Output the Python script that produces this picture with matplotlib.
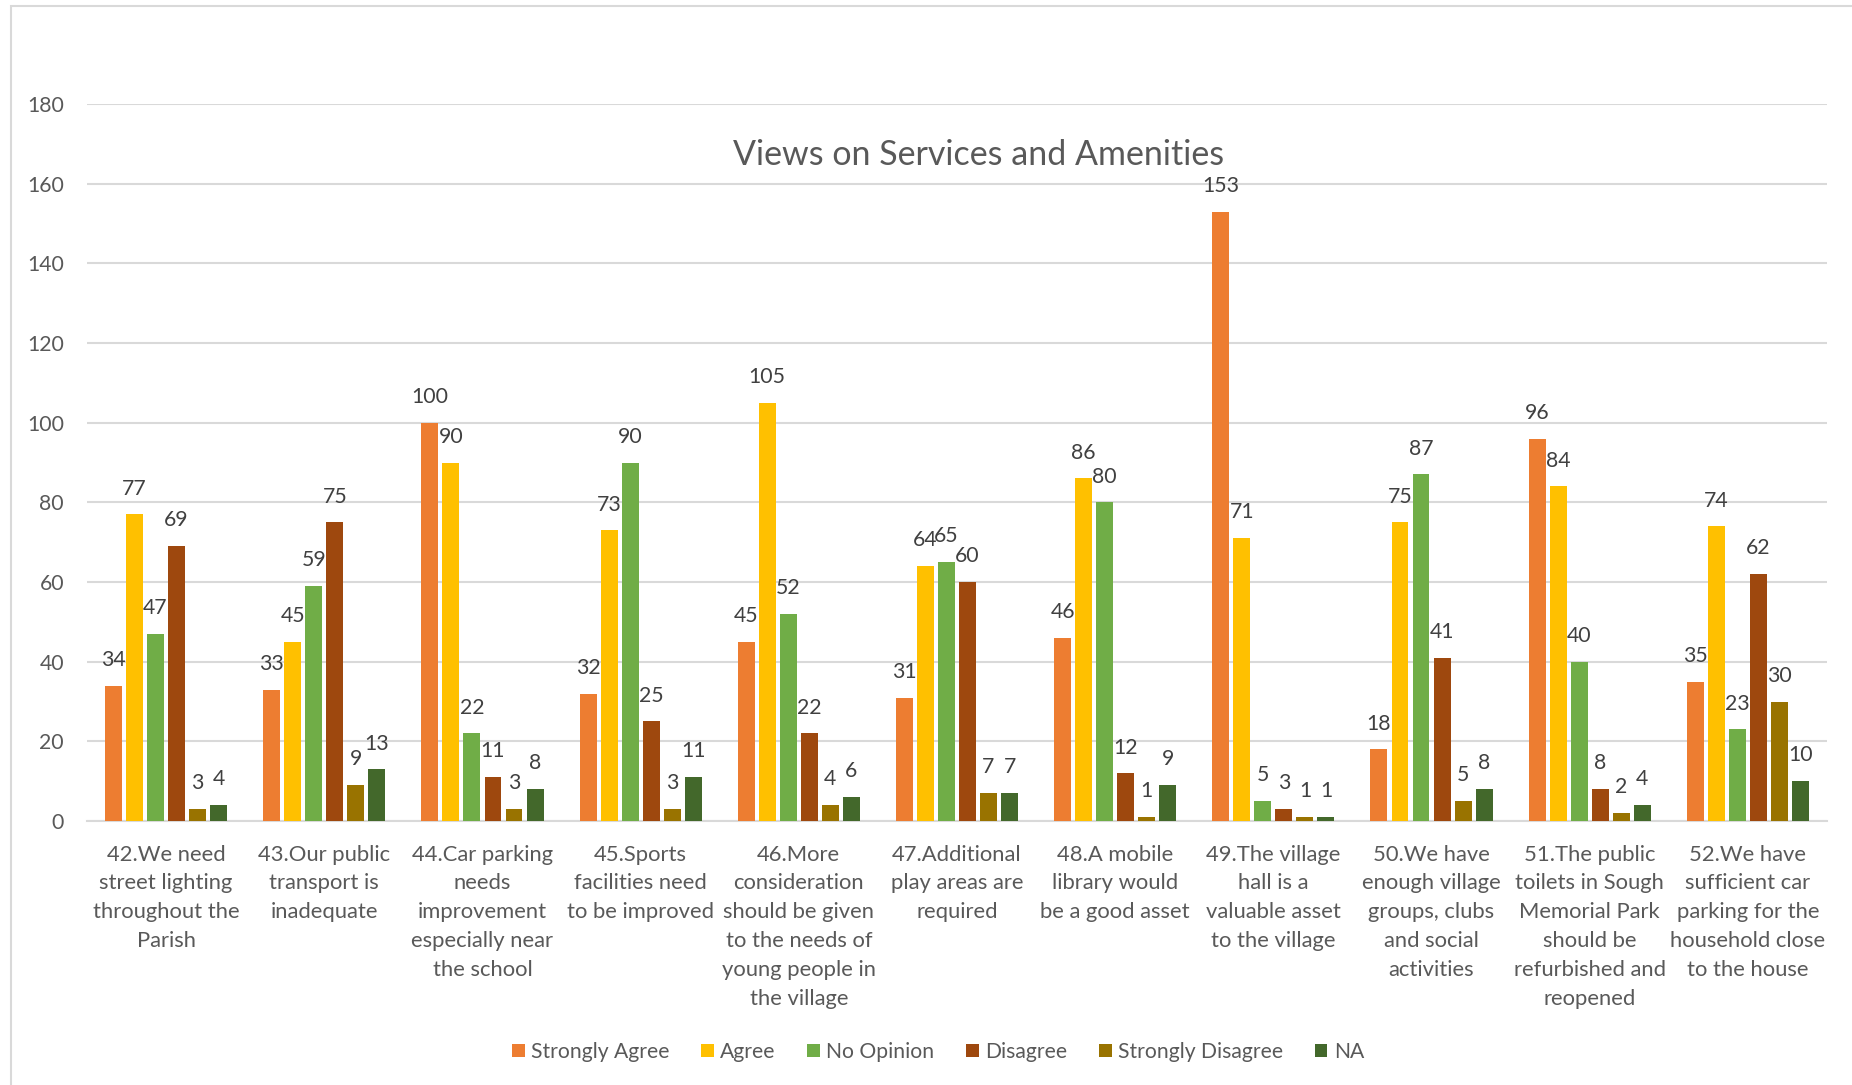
import numpy as np
import matplotlib.pyplot as plt
from matplotlib.patches import Rectangle

plt.rcParams['font.family'] = ['Lato', 'DejaVu Sans']

# fragen
kategorien = [
    "42.We need\nstreet lighting\nthroughout the\nParish",
    "43.Our public\ntransport is\ninadequate",
    "44.Car parking\nneeds\nimprovement\nespecially near\nthe school",
    "45.Sports\nfacilities need\nto be improved",
    "46.More\nconsideration\nshould be given\nto the needs of\nyoung people in\nthe village",
    "47.Additional\nplay areas are\nrequired",
    "48.A mobile\nlibrary would\nbe a good asset",
    "49.The village\nhall is a\nvaluable asset\nto the village",
    "50.We have\nenough village\ngroups, clubs\nand social\nactivities",
    "51.The public\ntoilets in Sough\nMemorial Park\nshould be\nrefurbished and\nreopened",
    "52.We have\nsufficient car\nparking for the\nhousehold close\nto the house",
]

# antworten pro frage
strongly_agree = [34, 33, 100, 32, 45, 31, 46, 153, 18, 96, 35]
agree = [77, 45, 90, 73, 105, 64, 86, 71, 75, 84, 74]
no_opinion = [47, 59, 22, 90, 52, 65, 80, 5, 87, 40, 23]
disagree = [69, 75, 11, 25, 22, 60, 12, 3, 41, 8, 62]
strongly_disagree = [3, 9, 3, 3, 4, 7, 1, 1, 5, 2, 30]
na = [4, 13, 8, 11, 6, 7, 9, 1, 8, 4, 10]

serien = ["Strongly Agree", "Agree", "No Opinion", "Disagree", "Strongly Disagree", "NA"]
werte = [strongly_agree, agree, no_opinion, disagree, strongly_disagree, na]
farben = ["#ED7D31", "#FFC000", "#70AD47", "#9E480E", "#997300", "#43682B"]

fig = plt.figure(figsize=(18.52, 10.85), dpi=100)
ax = fig.add_axes([87 / 1852, 1 - 821 / 1085, 1740 / 1852, 717 / 1085])

# rahmen um die grafik
fig.patches.append(Rectangle((11 / 1852, -0.01), 1.1, 1.01 - 5.5 / 1085, transform=fig.transFigure,
                             fill=False, edgecolor="#d9d9d9", linewidth=1.5))

x = np.arange(len(kategorien))
schritt = 0.133
breite = 0.107
for i in range(len(serien)):
    pos = x + (i - 2.5) * schritt
    bars = ax.bar(pos, werte[i], width=breite, color=farben[i], label=serien[i], zorder=3)
    for b, v in zip(bars, werte[i]):
        ax.annotate(str(v), (b.get_x() + b.get_width() / 2, v), xytext=(0, 18.5),
                    textcoords="offset points", ha="center", va="center",
                    fontsize=15.3, color="#404040", zorder=4)

ax.set_ylim(0, 180)
ax.set_xlim(-0.5, len(kategorien) - 0.5)
ax.set_yticks(np.arange(0, 181, 20))
ax.grid(axis="y", color="#d9d9d9", linewidth=1.5, zorder=0)
for s in ["top", "right", "left"]:
    ax.spines[s].set_visible(False)
ax.spines["bottom"].set_color("#d9d9d9")
ax.spines["bottom"].set_linewidth(1.5)
ax.tick_params(axis="both", length=0, labelsize=15.3, labelcolor="#595959")
ax.tick_params(axis="y", pad=16.5)
ax.set_xticks(x)
ax.set_xticklabels(kategorien, fontsize=15.8, linespacing=1.55)
ax.tick_params(axis="x", pad=17)

fig.text(979 / 1852, 1 - 155 / 1085, "Views on Services and Amenities", ha="center", va="center",
         fontsize=24.5, color="#595959")

fig.legend(loc="center", bbox_to_anchor=(938 / 1852, 1 - 1052 / 1085), ncol=6, frameon=False,
           handlelength=0.6, handleheight=0.6, handletextpad=0.3, columnspacing=1.5,
           prop={"size": 15.2}, labelcolor="#595959")

plt.savefig("out.png")
